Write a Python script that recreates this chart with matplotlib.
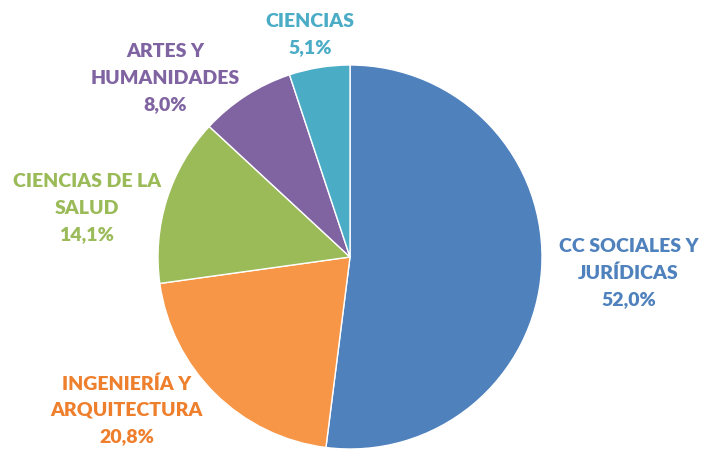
import matplotlib.pyplot as plt

labels = ["CC SOCIALES Y\nJURÍDICAS", "INGENIERÍA Y\nARQUITECTURA", "CIENCIAS DE LA\nSALUD",
          "ARTES Y\nHUMANIDADES", "CIENCIAS"]
values = [52.0, 20.8, 14.1, 8.0, 5.1]
colors = ["#4F81BD", "#F79646", "#9BBB59", "#8064A2", "#4BACC6"]
text_colors = ["#4F81BD", "#EE7F2D", "#9BBB59", "#8064A2", "#4BACC6"]

# label centres in pie units (radius = 1)
label_xy = [(1.45, -0.085), (-1.165, -0.797), (-1.37, 0.255), (-0.964, 0.932), (-0.208, 1.161)]

fig = plt.figure(figsize=(7.05, 4.5), dpi=100)
cx, cy, r = 350, 257, 192
ax = fig.add_axes([(cx - r) / 705, (450 - cy - r) / 450, 2 * r / 705, 2 * r / 450])

ax.pie(values, colors=colors, startangle=90, counterclock=False, radius=1,
       wedgeprops=dict(edgecolor="white", linewidth=1))
ax.set_xlim(-1, 1)
ax.set_ylim(-1, 1)
ax.set_aspect("equal")

for lab, v, c, (x, y) in zip(labels, values, text_colors, label_xy):
    txt = f"{lab}\n{v:.1f}%".replace(".", ",")
    ax.text(x, y, txt, ha="center", va="center", color=c, fontsize=14,
            fontweight="heavy", family="Lato", linespacing=1.65, clip_on=False)

fig.savefig("out.png", dpi=100)
